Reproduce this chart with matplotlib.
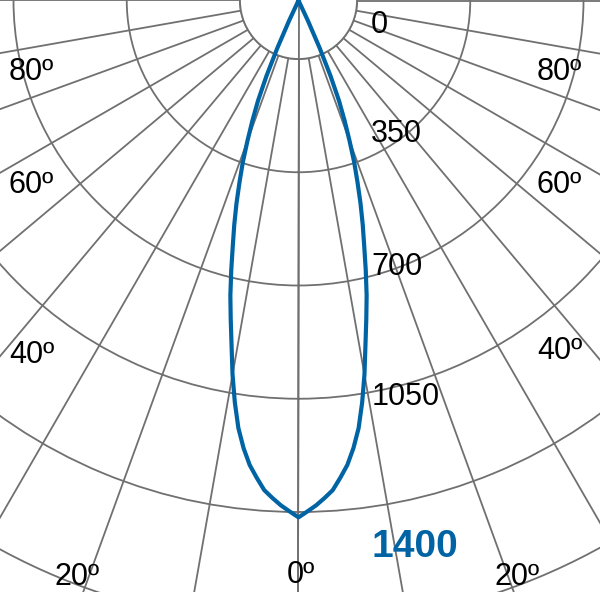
import numpy as np
import matplotlib
matplotlib.use("Agg")
import matplotlib.pyplot as plt

# ---- data -------------------------------------------------------------
# luminous intensity curve (angle in degrees from nadir, intensity)
curve_angles = [-26, -25, -24, -23, -22, -21, -20, -19, -18, -17, -16, -15, -14,
                -13, -12, -11, -10, -9, -8, -7, -6, -5, -4, -3, -2, -1,
                0, 1, 2, 3, 4, 5, 6, 7, 8, 9, 10, 11, 12, 13,
                14, 15, 16, 17, 18, 19, 20, 21, 22, 23, 24, 25, 26]
curve_values = [0, 60, 142, 224, 295, 351, 407, 467, 521, 579, 636, 693, 759,
                827, 890, 958, 1037, 1111, 1179, 1231, 1275, 1308, 1340, 1360, 1379, 1395,
                1411, 1395, 1379, 1360, 1340, 1308, 1275, 1231, 1179, 1111, 1037, 958, 890, 827,
                759, 693, 636, 579, 521, 467, 407, 351, 295, 224, 142, 60, 0]

radial_ticks = [0, 350, 700, 1050, 1400, 1750]
radial_labels = ["0", "350", "700", "1050", "1400"]
angle_grid = list(range(0, 360, 10))
angle_labels = ["80º", "60º", "40º", "20º", "0º"]

# ---- geometry (pixels) -------------------------------------------------
W, H = 600, 592
CX, CY = 298.5, 0.5          # centre of the diagram (from top-left)
R_PX = 700                   # radius of the polar axes in pixels
INNER_PX = 58.5              # radius of the "0" circle
PX_PER_STEP = 113.25         # pixel distance between 350-steps
CURVE_RMAX = 1911            # curve scale: value at R_PX

GRID_COLOR = "#707070"
BLUE = "#0064A4"

fig = plt.figure(figsize=(W / 100, H / 100), dpi=100)
fig.patch.set_facecolor("white")
rect = [(CX - R_PX) / W, (H - CY - R_PX) / H, 2 * R_PX / W, 2 * R_PX / H]

# grid axes
axg = fig.add_axes(rect, projection="polar")
px_per_unit = PX_PER_STEP / 350.0
axg.set_theta_zero_location("S")
axg.set_rlim(0, (R_PX - INNER_PX) / px_per_unit)
axg.set_rorigin(-INNER_PX / px_per_unit)
axg.set_rgrids(radial_ticks, labels=[""] * len(radial_ticks))
axg.set_thetagrids(angle_grid, labels=[""] * len(angle_grid))
axg.grid(True, color=GRID_COLOR, linewidth=1.3)
for name, sp in axg.spines.items():
    sp.set_color(GRID_COLOR)
    sp.set_linewidth(1.3)
axg.tick_params(length=0)

# curve axes (radius measured from the true centre)
axc = fig.add_axes(rect, projection="polar")
axc.set_facecolor("none")
axc.set_theta_zero_location("S")
axc.set_rlim(0, CURVE_RMAX)
axc.set_yticks([])
axc.set_thetagrids([0], labels=[""])
axc.grid(True, color=GRID_COLOR, linewidth=1.3)
for sp in axc.spines.values():
    sp.set_visible(False)
axc.tick_params(length=0)
axc.plot(np.deg2rad(curve_angles), curve_values, color=BLUE, linewidth=3.0,
         solid_joinstyle="round", zorder=5)

# ---- text -------------------------------------------------------------
FONT = "Liberation Sans"
FS = 22

def ftext(x, y, s, **kw):
    fig.text(x / W, 1 - y / H, s, family=FONT, va="baseline", ha="left", **kw)

# radial labels (left x, baseline y)
rad_pos = [(371, 33), (371, 142), (371, 275), (372, 405)]
for (x, y), s in zip(rad_pos, radial_labels[:4]):
    ftext(x, y, s, fontsize=FS, color="black")
ftext(371, 557, radial_labels[4], fontsize=28, color=BLUE, fontweight="bold")

# angle labels
left_pos = [(9, 80), (8, 193), (9, 363), (54, 585)]
right_pos = [(537, 80), (537, 193), (537, 359), (494, 585)]
for (x, y), s in zip(left_pos, angle_labels[:4]):
    ftext(x, y, s, fontsize=FS, color="black")
for (x, y), s in zip(right_pos, angle_labels[:4]):
    ftext(x, y, s, fontsize=FS, color="black")
ftext(287, 583, angle_labels[4], fontsize=FS, color="black")

fig.savefig("out.png", dpi=100)
